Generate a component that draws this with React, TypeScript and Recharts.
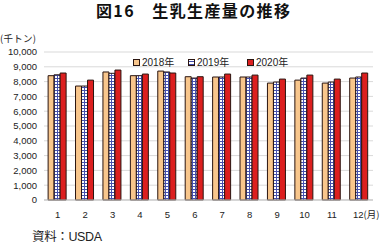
import React from "react";
import { BarChart, Bar, XAxis, YAxis, CartesianGrid } from "recharts";

const months = ["1", "2", "3", "4", "5", "6", "7", "8", "9", "10", "11", "12"];
const y2018 = [8400, 7700, 8650, 8400, 8710, 8330, 8310, 8310, 7900, 8100, 7900, 8240];
const y2019 = [8460, 7700, 8560, 8400, 8650, 8240, 8310, 8310, 7970, 8240, 7970, 8310];
const y2020 = [8580, 8100, 8780, 8510, 8580, 8330, 8510, 8440, 8170, 8440, 8170, 8580];
const yTicks = [0, 1000, 2000, 3000, 4000, 5000, 6000, 7000, 8000, 9000, 10000];
const seriesNames = ["2018年", "2019年", "2020年"];

const data = months.map((m, i) => ({
  month: m,
  a: y2018[i],
  b: y2019[i],
  c: y2020[i],
}));

const ORANGE = "#F8C68C";
const RED = "#DC1F1F";
const STROKE = "#2a1510";
const FONT = "'Liberation Sans', Arial, sans-serif";
const JP = "'Noto Sans CJK JP', sans-serif";

const XTick = (props: any) => {
  const { x, y, payload } = props;
  const isLast = payload.value === "12";
  return (
    <text
      x={isLast ? x + 7 : x}
      y={y}
      dy="0.71em"
      textAnchor="middle"
      fontSize={9.5}
      fontFamily={FONT}
      fill="#222"
    >
      {payload.value}
      {isLast ? <tspan fontFamily={JP}>(月)</tspan> : null}
    </text>
  );
};

const LegendSwatch = ({ kind }: { kind: number }) => {
  const style: React.CSSProperties = {
    display: "inline-block",
    width: 5,
    height: 5,
    border: `1px solid ${STROKE}`,
    marginRight: 2,
    verticalAlign: "middle",
    position: "relative",
    top: -1,
  };
  if (kind === 0) style.background = ORANGE;
  if (kind === 1)
    style.background =
      "repeating-linear-gradient(0deg,#3f4aa8 0 1px,#fff 1px 3px),repeating-linear-gradient(90deg,#3f4aa8 0 1px,#fff 1px 3px)";
  if (kind === 2) style.background = RED;
  return <span style={style} />;
};

export default function App() {
  const lefts = [133, 188, 247];
  return (
    <div
      style={{
        position: "absolute",
        left: 0,
        top: 0,
        width: 383,
        height: 243,
        background: "#fff",
        overflow: "hidden",
      }}
    >
      <BarChart
        width={383}
        height={243}
        data={data}
        margin={{ top: 52, right: 10, bottom: 23, left: 4 }}
        barCategoryGap="15%"
        barGap={0}
      >
        <defs>
          <pattern id="check" width="3" height="3" patternUnits="userSpaceOnUse">
            <rect width="3" height="3" fill="#fff" />
            <rect width="3" height="1" fill="#4550ad" />
            <rect width="1" height="3" fill="#4550ad" />
          </pattern>
        </defs>
        <CartesianGrid vertical={false} stroke="#d9d9d9" strokeWidth={1} />
        <XAxis
          dataKey="month"
          height={20}
          tickLine={false}
          axisLine={{ stroke: "#bfbfbf" }}
          tickSize={0}
          tickMargin={11}
          interval={0}
          tick={<XTick />}
        />
        <YAxis
          width={40}
          domain={[0, 10000]}
          ticks={yTicks}
          interval={0}
          axisLine={false}
          tickLine={false}
          tickSize={0}
          tickMargin={7}
          tickFormatter={(v: number) => v.toLocaleString("en-US")}
          tick={{ fontSize: 9.5, fontFamily: FONT, fill: "#222" }}
        />
        <Bar dataKey="a" name={seriesNames[0]} fill={ORANGE} stroke={STROKE} strokeWidth={1} isAnimationActive={false} />
        <Bar dataKey="b" name={seriesNames[1]} fill="url(#check)" stroke={STROKE} strokeWidth={1} isAnimationActive={false} />
        <Bar dataKey="c" name={seriesNames[2]} fill={RED} stroke={STROKE} strokeWidth={1} isAnimationActive={false} />
      </BarChart>
      <svg
        width={383}
        height={243}
        style={{ position: "absolute", left: 0, top: 0, pointerEvents: "none" }}
      >
        <text
          x={96}
          y={16.5}
          fontFamily={JP}
          fontWeight={700}
          fontSize={16}
          fill="#111"
          textLength={194}
          lengthAdjust="spacing"
        >
          図16　生乳生産量の推移
        </text>
        <text x={0} y={41.5} fontFamily={JP} fontSize={9.5} fill="#222" textLength={36} lengthAdjust="spacing">
          (千トン)
        </text>
        <text x={32} y={241} fontFamily={JP} fontSize={12.5} fill="#222" textLength={70} lengthAdjust="spacing">
          資料：<tspan fontFamily={FONT}>USDA</tspan>
        </text>
      </svg>
      {seriesNames.map((n, i) => (
        <div
          key={n}
          style={{
            position: "absolute",
            left: lefts[i],
            top: 55,
            fontFamily: FONT,
            fontSize: 10,
            lineHeight: "13px",
            color: "#222",
            whiteSpace: "nowrap",
          }}
        >
          <LegendSwatch kind={i} />
          {n.slice(0, 4)}
          <span style={{ fontFamily: JP }}>{n.slice(4)}</span>
        </div>
      ))}
    </div>
  );
}
